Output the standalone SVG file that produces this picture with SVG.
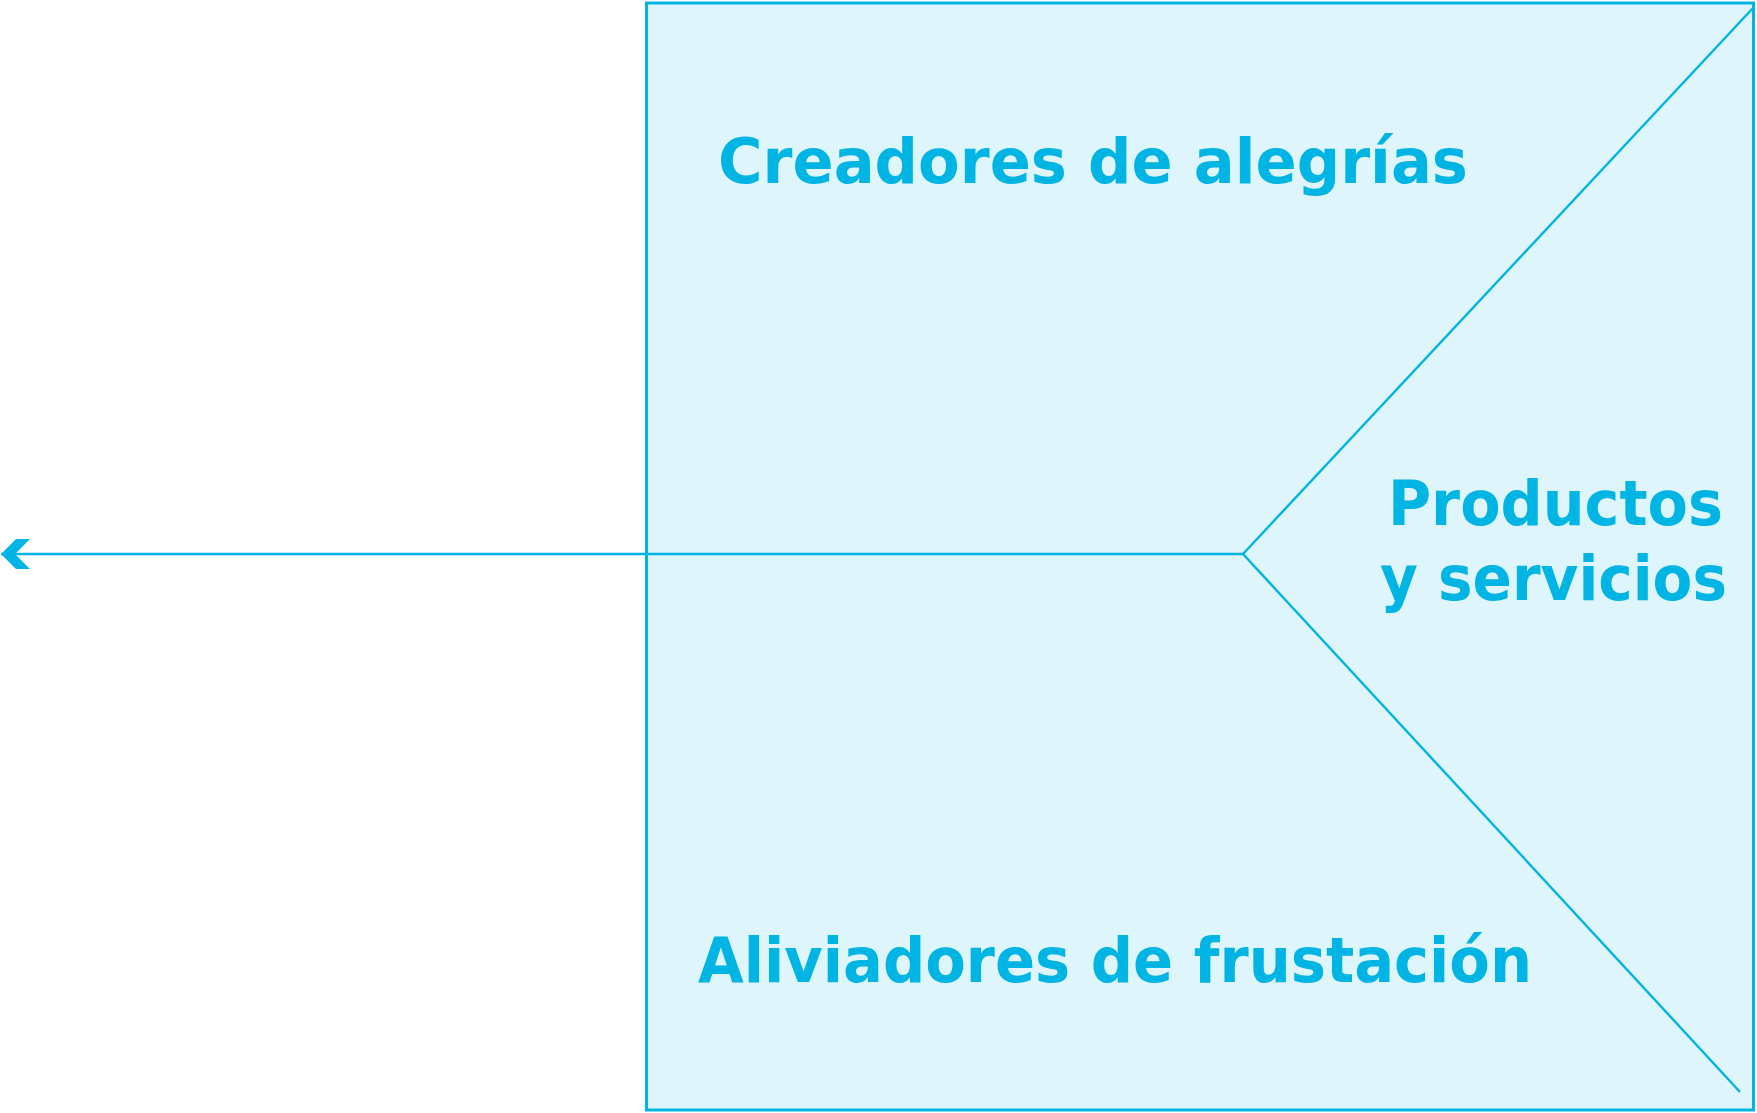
<svg xmlns="http://www.w3.org/2000/svg" width="1757" height="1113" viewBox="0 0 1757 1113">
<style>
.ln{stroke:#00b4e3;stroke-width:2.4;fill:none}
.lbl{font-family:"DejaVu Sans","Open Sans",sans-serif;font-weight:700;font-size:63px;fill:#00b4e3}
</style>
<defs>
<marker id="chev" viewBox="0 0 30 32" refX="29" refY="16" markerWidth="30" markerHeight="32" markerUnits="userSpaceOnUse" orient="auto">
<path d="M29,16 L14,1 L0,1 L15,16 L0,31 L14,31 Z" fill="#00b4e3"/>
</marker>
</defs>
<rect width="1757" height="1113" fill="#ffffff"/>
<g id="canvas">
<rect x="646.5" y="3" width="1107" height="1107" fill="#dff5fc" stroke="#00b4e3" stroke-width="3"/>
</g>
<g id="connectors">
<line class="ln" x1="1243" y1="554" x2="1" y2="554" marker-end="url(#chev)"/>
<line class="ln" x1="1243" y1="554" x2="1753" y2="8"/>
<line class="ln" x1="1243" y1="554" x2="1740" y2="1092"/>
</g>
<g id="creadores">
<text class="lbl" x="718" y="183" textLength="750" lengthAdjust="spacingAndGlyphs">Creadores de alegrías</text>
</g>
<g id="productos">
<text class="lbl" x="1388" y="525" textLength="335" lengthAdjust="spacingAndGlyphs">Productos</text>
<text class="lbl" x="1380" y="600" textLength="347" lengthAdjust="spacingAndGlyphs">y servicios</text>
</g>
<g id="aliviadores">
<text class="lbl" x="698" y="982" textLength="834" lengthAdjust="spacingAndGlyphs">Aliviadores de frustación</text>
</g>
</svg>
